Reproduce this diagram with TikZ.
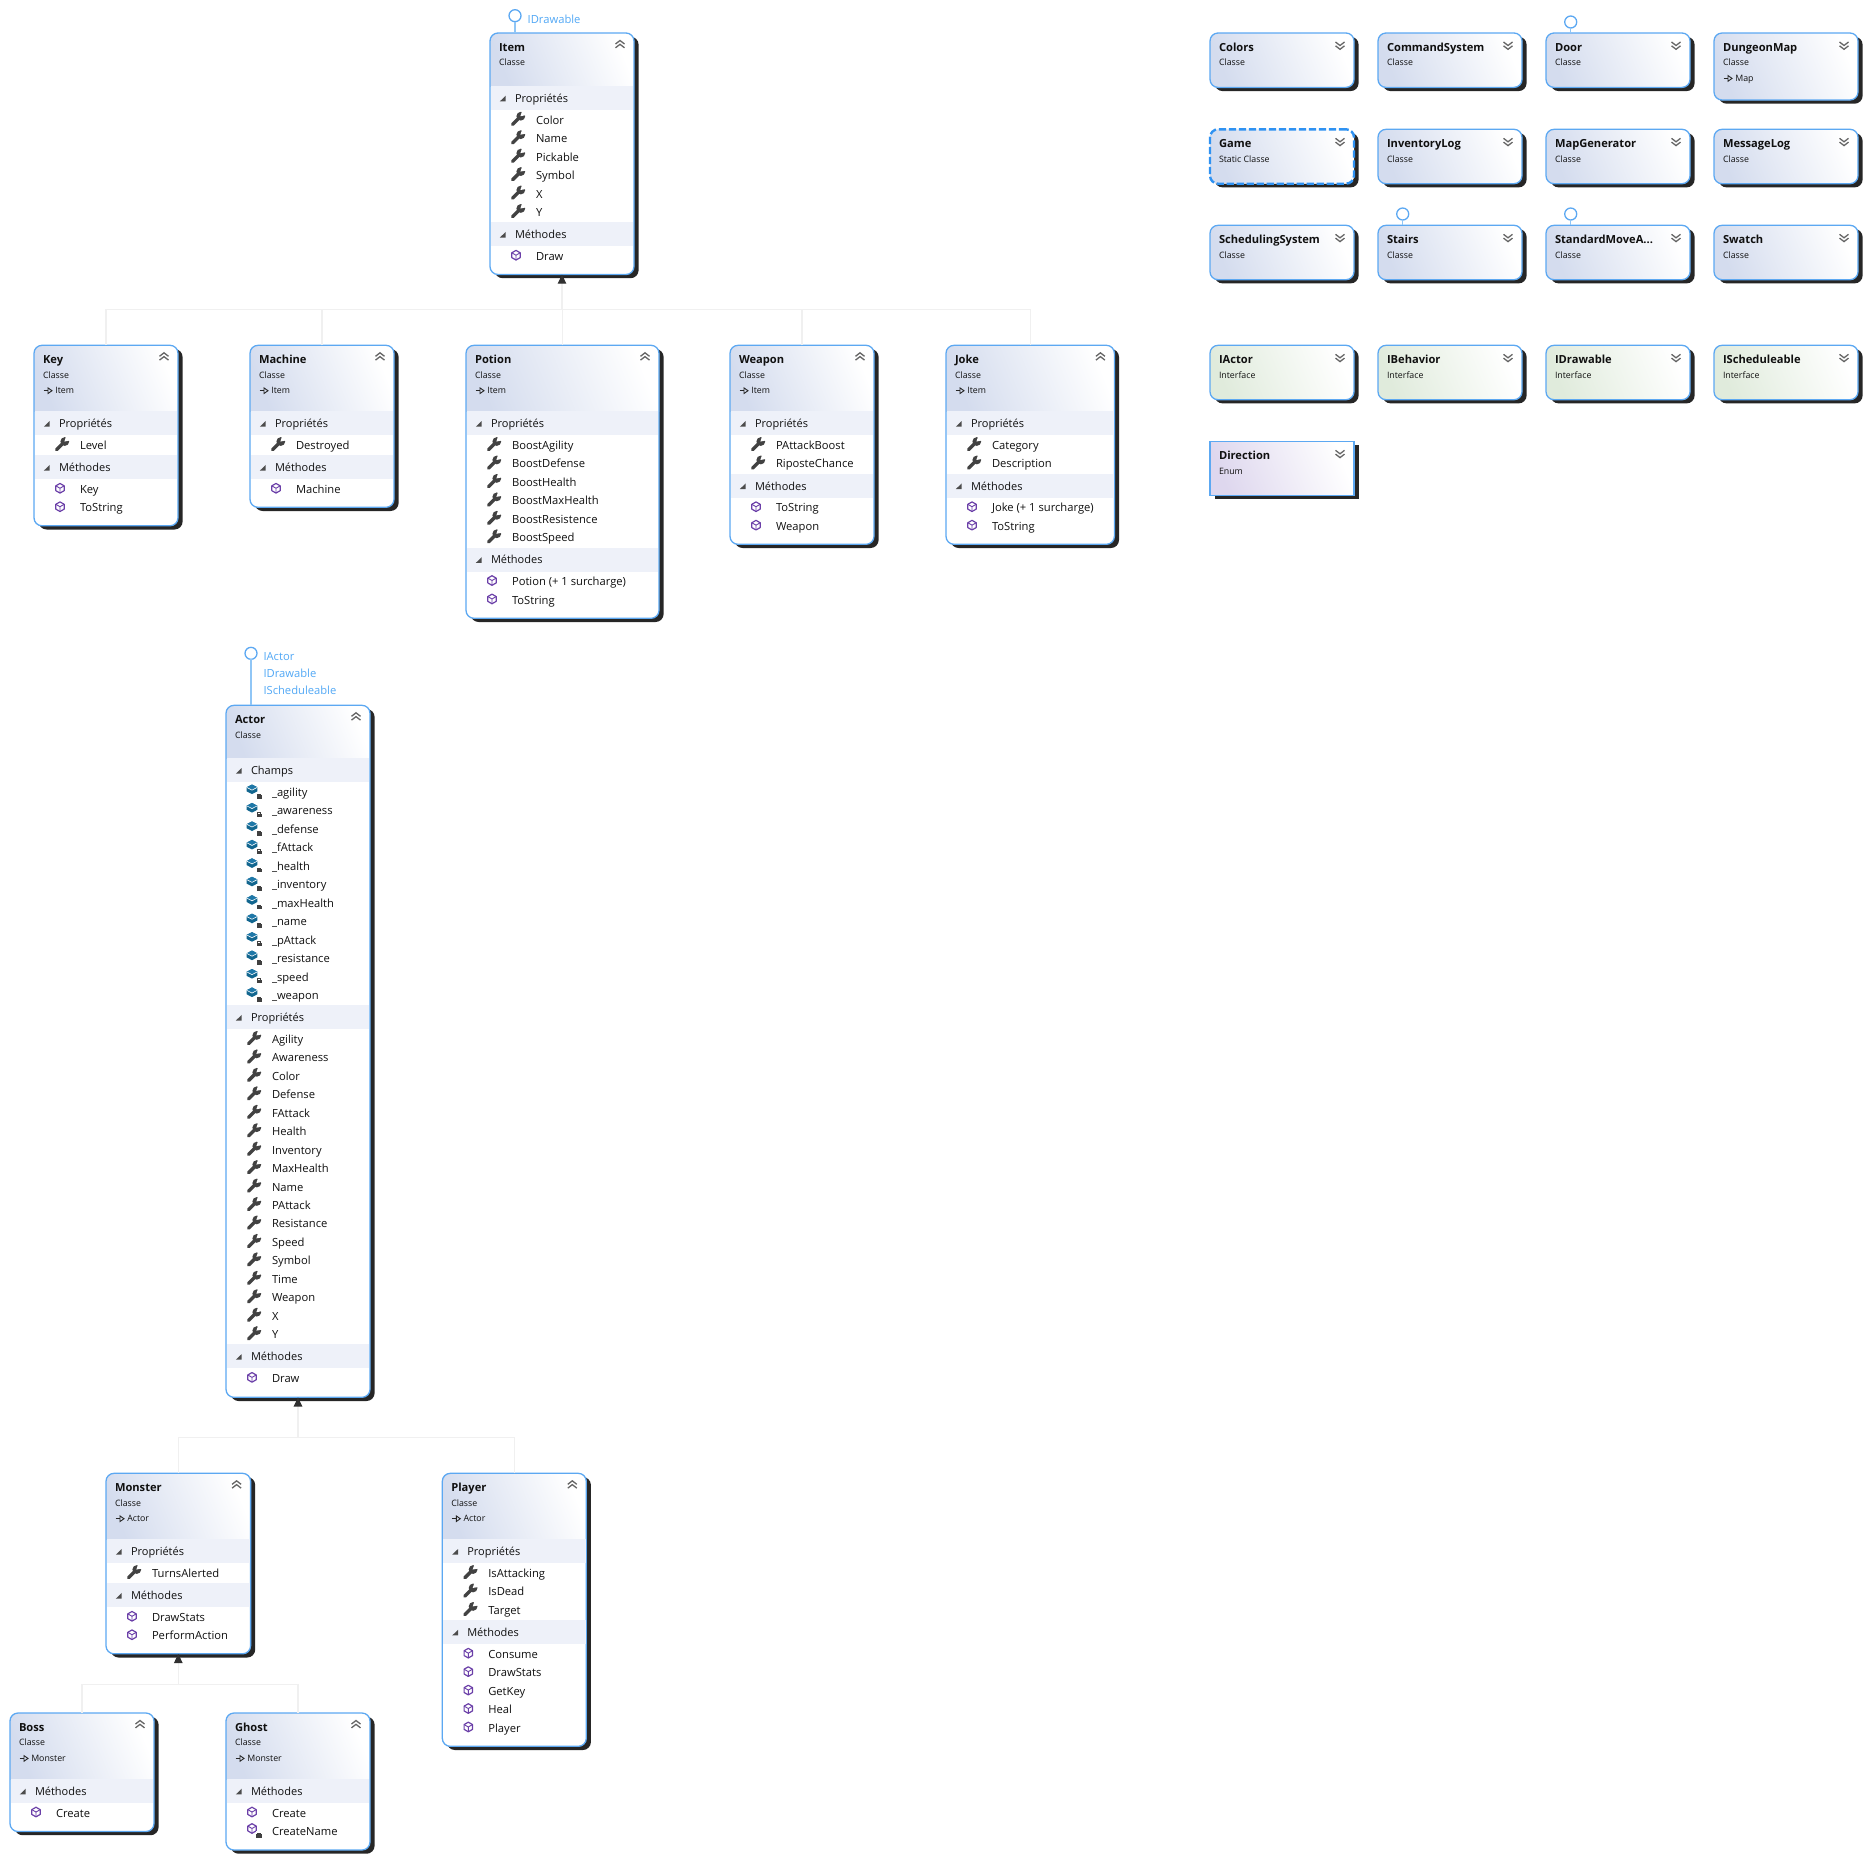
\documentclass[tikz,border=0pt]{standalone}
\usepackage{fontspec}
\setmainfont{Open Sans}
\usetikzlibrary{arrows.meta}
\definecolor{bord}{HTML}{5CA8F2}
\definecolor{gameb}{HTML}{2F92F2}
\definecolor{shad}{HTML}{262626}
\definecolor{cls}{HTML}{D4DCEE}
\definecolor{ifc}{HTML}{E0EBDC}
\definecolor{enu}{HTML}{DED7EE}
\definecolor{band}{HTML}{EEF1F9}
\definecolor{sepc}{HTML}{E4E4E4}
\definecolor{conc}{HTML}{F0F0F0}
\definecolor{tipc}{HTML}{303030}
\definecolor{ink}{HTML}{101010}
\definecolor{wrc}{HTML}{424242}
\definecolor{meth}{HTML}{6B3FA8}
\definecolor{fld}{HTML}{12668F}
\definecolor{fldt}{HTML}{1F78A8}
\definecolor{lollc}{HTML}{5CA8F2}
\definecolor{lolll}{HTML}{90C6F6}
\definecolor{ilab}{HTML}{52A8F5}
\colorlet{hdr}{cls}
\newcounter{tid}
\newcommand\fRow{\fontsize{5.6}{7}\selectfont}
\newcommand\fSec{\fontsize{5.5}{7}\selectfont}
\newcommand\fSub{\fontsize{4.4}{6}\selectfont}
\newcommand\fTitle{\fontsize{5.57}{7}\selectfont\bfseries}
\tikzset{
  ucorners/.style={rounded corners=4pt},
  txt/.style={inner sep=0pt,outer sep=0pt,anchor=base west,text=ink},
  classbox/.style={draw=bord,line width=0.65pt,inner sep=0pt,outer sep=0pt,anchor=north west},
  gamebox/.style={draw=gameb,line width=1.2pt,dash pattern=on 3.6pt off 1.4pt,inner sep=0pt,outer sep=0pt,anchor=north west},
  conn/.style={draw=conc,line width=0.7pt},
  inh/.style={conn,-{Triangle[width=4.2pt,length=4.6pt,color=tipc]}},
  lolli/.style={circle,draw=lollc,line width=0.65pt,fill=white,minimum size=6pt,inner sep=0pt,outer sep=0pt},
  lolline/.style={draw=lolll,line width=0.75pt},
  chev/.style={draw=black!60,line width=0.65pt},
}
\newcommand\utxt[4]{\stepcounter{tid}\node[txt,#1] (t\arabic{tid}) at (#2,#3) {#4};}
% [style]{name}{x}{y}{w}{h}{header h}{title}
\newcommand\ubox[8][classbox]{%
  \xdef\ux{#3}\xdef\uy{#4}\xdef\uw{#5}%
  \pgfmathsetmacro\tmpy{#4+#7-1.5}\xdef\cury{\tmpy}%
  \fill[shad,ucorners] (#3+4.6,#4+3.7) rectangle ++(#5,#6);
  \fill[white,ucorners] (#3,#4) rectangle ++(#5,#6);
  \begin{scope}
    \clip[ucorners] (#3,#4) rectangle ++(#5,#6);
    \shade[left color=hdr,right color=white,shading angle=112] (#3,#4) rectangle (#3+#5,#4+#7);
  \end{scope}
  \node[#1,ucorners,minimum width=#5*0.5pt,minimum height=#6*0.5pt] (#2) at (#3,#4) {};
  \utxt{font=\fTitle}{#3+9}{#4+18.4}{#8}%
  \utxt{font=\fSub}{#3+9}{#4+32.9}{\ubsub}%
  \ifdim#6pt>#7pt
    \draw[sepc,line width=0.5pt] (#3+1,#4+#7) -- (#3+#5-1,#4+#7);
    \begin{scope}[shift={(#3+#5-14,#4+12)}]
      \draw[chev] (-4.5,-1) -- (0,-4.5) -- (4.5,-1);
      \draw[chev] (-4.5,2.8) -- (0,-0.7) -- (4.5,2.8);
    \end{scope}
  \else
    \begin{scope}[shift={(#3+#5-14,#4+12)}]
      \draw[chev] (-4.5,-3) -- (0,0.5) -- (4.5,-3);
      \draw[chev] (-4.5,0.8) -- (0,4.3) -- (4.5,0.8);
    \end{scope}
  \fi
}
\newcommand\sublabel[1]{\gdef\ubsub{#1}}
\sublabel{Classe}
\newcommand\ubase[1]{%
  \begin{scope}[shift={(\ux,\uy)}]
    \draw[black!85,line width=0.45pt] (9.5,45.4) -- (14,45.4);
    \draw[black!85,line width=0.45pt] (14,42.6) -- (18,45.4) -- (14,48.2) -- cycle;
  \end{scope}
  \utxt{font=\fSub}{\ux+21.3}{\uy+48.6}{#1}%
}
\newcommand\usec[1]{%
  \pgfmathsetmacro\tmpa{\cury+1.5}\pgfmathsetmacro\tmpb{\tmpa+24}%
  \fill[band] (\ux+0.7,\tmpa) rectangle (\ux+\uw-0.7,\tmpb);
  \begin{scope}[shift={(\ux+12.7,\tmpa+12.5)}]
    \fill[black!70] (3,-2.8) -- (3,2.8) -- (-2.8,2.8) -- cycle;
  \end{scope}
  \utxt{font=\fSec}{\ux+25}{\tmpa+16.4}{#1}%
  \xdef\cury{\tmpb}%
}
\newcommand\rowtext[1]{%
  \utxt{font=\fRow}{\ux+46}{\cury+14.2}{#1}%
  \pgfmathsetmacro\tmpa{\cury+18.45}\xdef\cury{\tmpa}%
}
\newcommand\ulock[2]{%
  \begin{scope}[shift={(#1,#2)}]
    \fill[white] (-3.4,-3.8) rectangle (3.4,3);
    \fill[black!75] (-2.6,-0.8) rectangle (2.6,2.6);
    \draw[black!75,line width=0.4pt] (-1.5,-0.8) -- (-1.5,-1.8) -- (1.5,-1.8) -- (1.5,-0.8);
  \end{scope}
}
\newcommand\umeth[2]{%
  \begin{scope}[shift={(#1,#2)}]
    \draw[meth,line width=0.6pt,line join=round] (0,-4.8) -- (4.2,-2.4) -- (4.2,2.4) -- (0,4.8) -- (-4.2,2.4) -- (-4.2,-2.4) -- cycle;
    \draw[meth,line width=0.45pt] (-4.2,-2.4) -- (0,0) -- (4.2,-2.4) (0,0) -- (0,4.8);
  \end{scope}
}
\newcommand\rowP[1]{%
  \begin{scope}[shift={(\ux+28,\cury+9)}]
    \draw[wrc,line width=1.7pt,line cap=round] (-5.4,5.4) -- (1.5,-1.5);
    \fill[wrc] (2.8,-2.8) circle (4.4);
    \fill[white] (2.4,-2.8) -- (4.2,-8.2) -- (8.6,-8.2) -- (8.6,-4.2) -- (8,-3.8) -- cycle;
  \end{scope}
  \rowtext{#1}%
}
\newcommand\rowM[1]{%
  \umeth{\ux+26}{\cury+9}%
  \rowtext{#1}%
}
\newcommand\rowX[1]{%
  \umeth{\ux+26}{\cury+7}%
  \ulock{\ux+33}{\cury+13.6}%
  \rowtext{#1}%
}
\newcommand\rowF[1]{%
  \begin{scope}[shift={(\ux+26,\cury+7)}]
    \fill[fld] (-5.4,-2) -- (0,-4.8) -- (5.4,-2) -- (5.4,2) -- (0,4.8) -- (-5.4,2) -- cycle;
    \fill[fldt] (-5.4,-2) -- (0,-4.8) -- (5.4,-2) -- (0,0.8) -- cycle;
    \draw[white,line width=0.3pt] (-5.4,-2) -- (0,0.8) -- (5.4,-2);
  \end{scope}
  \ulock{\ux+33.3}{\cury+13.7}%
  \rowtext{#1}%
}
\begin{document}
\begin{tikzpicture}[x=0.5pt,y=-0.5pt]
\useasboundingbox (0,0) rectangle (1867,1859);
% --- Item family
\ubox{Item}{490}{33}{144}{241.5}{53}{Item}
\usec{Propriétés}\rowP{Color}\rowP{Name}\rowP{Pickable}\rowP{Symbol}\rowP{X}\rowP{Y}
\usec{Méthodes}\rowM{Draw}

\ubox{Key}{34}{345.3}{144}{180.5}{66}{Key}\ubase{Item}
\usec{Propriétés}\rowP{Level}
\usec{Méthodes}\rowM{Key}\rowM{ToString}

\ubox{Machine}{250}{345.3}{144}{162}{66}{Machine}\ubase{Item}
\usec{Propriétés}\rowP{Destroyed}
\usec{Méthodes}\rowM{Machine}

\ubox{Potion}{466}{345.3}{193}{273}{66}{Potion}\ubase{Item}
\usec{Propriétés}\rowP{BoostAgility}\rowP{BoostDefense}\rowP{BoostHealth}\rowP{BoostMaxHealth}\rowP{BoostResistence}\rowP{BoostSpeed}
\usec{Méthodes}\rowM{Potion (+ 1 surcharge)}\rowM{ToString}

\ubox{Weapon}{730}{345.3}{144}{199}{66}{Weapon}\ubase{Item}
\usec{Propriétés}\rowP{PAttackBoost}\rowP{RiposteChance}
\usec{Méthodes}\rowM{ToString}\rowM{Weapon}

\ubox{Joke}{946}{345.3}{168.4}{199}{66}{Joke}\ubase{Item}
\usec{Propriétés}\rowP{Category}\rowP{Description}
\usec{Méthodes}\rowM{Joke (+ 1 surcharge)}\rowM{ToString}

% --- Actor family
\ubox{Actor}{226}{705.3}{144}{692}{53}{Actor}
\usec{Champs}\rowF{\_agility}\rowF{\_awareness}\rowF{\_defense}\rowF{\_fAttack}\rowF{\_health}\rowF{\_inventory}\rowF{\_maxHealth}\rowF{\_name}\rowF{\_pAttack}\rowF{\_resistance}\rowF{\_speed}\rowF{\_weapon}
\usec{Propriétés}\rowP{Agility}\rowP{Awareness}\rowP{Color}\rowP{Defense}\rowP{FAttack}\rowP{Health}\rowP{Inventory}\rowP{MaxHealth}\rowP{Name}\rowP{PAttack}\rowP{Resistance}\rowP{Speed}\rowP{Symbol}\rowP{Time}\rowP{Weapon}\rowP{X}\rowP{Y}
\usec{Méthodes}\rowM{Draw}

\ubox{Monster}{106}{1473.3}{144.6}{180.5}{66}{Monster}\ubase{Actor}
\usec{Propriétés}\rowP{TurnsAlerted}
\usec{Méthodes}\rowM{DrawStats}\rowM{PerformAction}

\ubox{Player}{442.3}{1473.3}{144}{273}{66}{Player}\ubase{Actor}
\usec{Propriétés}\rowP{IsAttacking}\rowP{IsDead}\rowP{Target}
\usec{Méthodes}\rowM{Consume}\rowM{DrawStats}\rowM{GetKey}\rowM{Heal}\rowM{Player}

\ubox{Boss}{10}{1713}{144}{118.5}{66}{Boss}\ubase{Monster}
\usec{Méthodes}\rowM{Create}

\ubox{Ghost}{226}{1713}{144}{137}{66}{Ghost}\ubase{Monster}
\usec{Méthodes}\rowM{Create}\rowX{CreateName}

% --- collapsed classes
\ubox{Colors}{1210}{33}{144}{54.4}{54.4}{Colors}
\ubox{CommandSystem}{1378}{33}{144}{54.4}{54.4}{CommandSystem}
\ubox{Door}{1546}{33}{144}{54.4}{54.4}{Door}
\ubox{DungeonMap}{1714}{33}{144}{67}{67}{DungeonMap}\ubase{Map}
\sublabel{Static Classe}
\ubox[gamebox]{Game}{1210}{129.3}{144}{54.4}{54.4}{Game}
\sublabel{Classe}
\ubox{InventoryLog}{1378}{129.3}{144}{54.4}{54.4}{InventoryLog}
\ubox{MapGenerator}{1546}{129.3}{144}{54.4}{54.4}{MapGenerator}
\ubox{MessageLog}{1714}{129.3}{144}{54.4}{54.4}{MessageLog}
\ubox{SchedulingSystem}{1210}{225.3}{144}{54.4}{54.4}{SchedulingSystem}
\ubox{Stairs}{1378}{225.3}{144}{54.4}{54.4}{Stairs}
\ubox{StandardMoveA}{1546}{225.3}{144}{54.4}{54.4}{StandardMoveA...}
\ubox{Swatch}{1714}{225.3}{144}{54.4}{54.4}{Swatch}
% --- interfaces and enum
\colorlet{hdr}{ifc}\sublabel{Interface}
\ubox{IActor}{1210}{345.3}{144}{54.4}{54.4}{IActor}
\ubox{IBehavior}{1378}{345.3}{144}{54.4}{54.4}{IBehavior}
\ubox{IDrawable}{1546}{345.3}{144}{54.4}{54.4}{IDrawable}
\ubox{ISchedulable}{1714}{345.3}{144}{54.4}{54.4}{IScheduleable}
\colorlet{hdr}{enu}\sublabel{Enum}
\tikzset{ucorners/.style={sharp corners}}
\ubox{Direction}{1210}{441.3}{144}{54.4}{54.4}{Direction}

% --- lollipops
\node[lolli] (lItem) at (515,15.7) {};
\draw[lolline] (lItem.south) -- (lItem.south |- Item.north);
\utxt{font=\fRow,text=ilab}{527.7}{23}{IDrawable}
\node[lolli] (lActor) at (251,653.3) {};
\draw[lolline] (lActor.south) -- (lActor.south |- Actor.north);
\utxt{font=\fRow,text=ilab}{263.5}{660}{IActor}
\utxt{font=\fRow,text=ilab}{263.5}{677}{IDrawable}
\utxt{font=\fRow,text=ilab}{263.5}{694.5}{IScheduleable}
\node[lolli] (lDoor) at (1570.7,22) {};
\draw[lolline] (lDoor.south) -- (lDoor.south |- Door.north);
\node[lolli] (lStairs) at (1402.7,214) {};
\draw[lolline] (lStairs.south) -- (lStairs.south |- Stairs.north);
\node[lolli] (lStd) at (1570.7,214) {};
\draw[lolline] (lStd.south) -- (lStd.south |- StandardMoveA.north);

% --- inheritance connectors
\path (Item.south) ++(0,35) coordinate (jItem);
\foreach \c in {Key,Machine,Potion,Weapon,Joke}
  \draw[conn] (\c.north) |- (jItem);
\draw[inh] (jItem) -- (Item.south);
\path (Actor.south) ++(0,40) coordinate (jActor);
\foreach \c in {Monster,Player}
  \draw[conn] (\c.north) |- (jActor);
\draw[inh] (jActor) -- (Actor.south);
\path (Monster.south) ++(0,30.5) coordinate (jMon);
\foreach \c in {Boss,Ghost}
  \draw[conn] (\c.north) |- (jMon);
\draw[inh] (jMon) -- (Monster.south);
\end{tikzpicture}
\end{document}
